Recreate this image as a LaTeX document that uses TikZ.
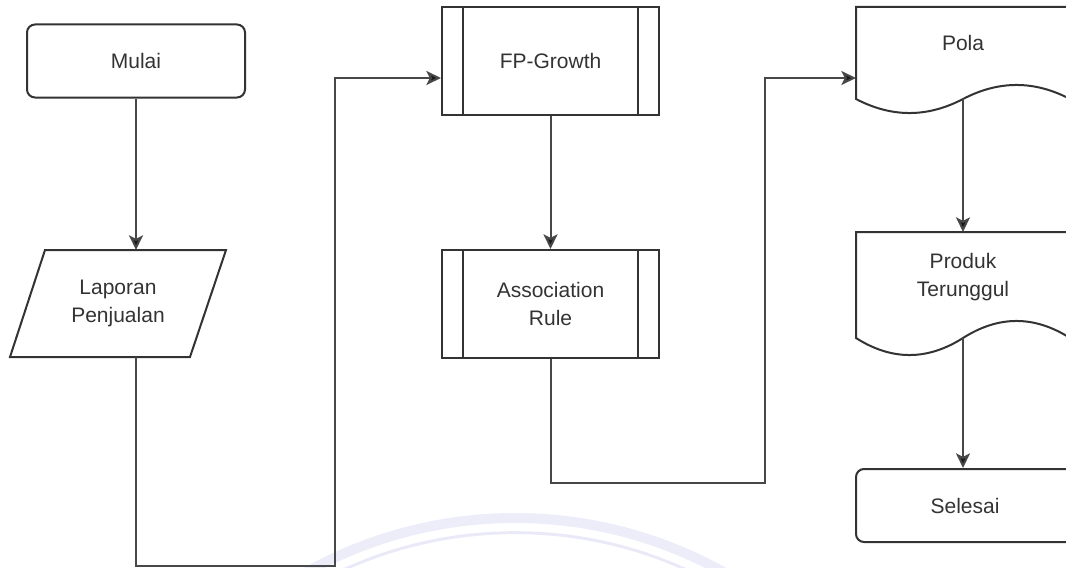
\documentclass[tikz,border=0pt]{standalone}
\usepackage{fontspec}
\setmainfont{Liberation Sans}
\usetikzlibrary{arrows.meta,calc}
\definecolor{ink}{HTML}{333333}
\definecolor{wire}{HTML}{484848}
\definecolor{label}{HTML}{333333}
\definecolor{seal}{HTML}{EDEDFA}
\definecolor{sealline}{HTML}{E9E9F8}

\begin{document}
\begin{tikzpicture}[x=0.75pt,y=-0.75pt,
  lbl/.style={text=label,font=\fontsize{15.75}{20.5}\selectfont,align=center,inner sep=0pt},
  terminal/.style={lbl,draw=ink,line width=1.5pt,rounded corners=6pt,
    minimum width=163.5pt,minimum height=54.75pt},
  procbox/.style={lbl,draw=ink,line width=1.5pt,
    minimum width=162.75pt,minimum height=81pt},
  shapeline/.style={draw=ink,line width=1.5pt,line join=miter},
  conn/.style={draw=wire,line width=1.5pt,
    -{Stealth[length=11pt,width=10.5pt,inset=2.6pt,fill=black!90]}}
]
\useasboundingbox (0,0) rectangle (1066,567);
\clip (0,0) rectangle (1066,567);

% faint seal in the background
\draw[seal,line width=7.5pt] (515,946) circle[radius=321pt];
\draw[sealline,line width=2.2pt] (515,946) circle[radius=310pt];

% start terminal
\node[terminal] (start) at (136,61) {Mulai};

% input: sales report (parallelogram)
\node[lbl] (lap) at (118,303.5) {Laporan\\Penjualan};
\draw[shapeline] ($(lap)+(-73,-53.5)$) -- ($(lap)+(108,-53.5)$)
  -- ($(lap)+(72,53.5)$) -- ($(lap)+(-108,53.5)$) -- cycle;
\coordinate (lapTop) at (136,250);
\coordinate (lapBot) at (136,357);

% predefined processes
\node[procbox] (fp) at (550.5,61) {FP-Growth};
\draw[shapeline] ($(fp.north west)+(22,0)$) -- ($(fp.south west)+(22,0)$);
\draw[shapeline] ($(fp.north east)+(-22,0)$) -- ($(fp.south east)+(-22,0)$);

\node[procbox] (ar) at (550.5,304) {Association\\Rule};
\draw[shapeline] ($(ar.north west)+(22,0)$) -- ($(ar.south west)+(22,0)$);
\draw[shapeline] ($(ar.north east)+(-22,0)$) -- ($(ar.south east)+(-22,0)$);

% document: pattern
\node[lbl] (pola) at (963,43) {Pola};
\draw[shapeline] (856,99) -- (856,7) -- (1070,7) -- (1070,99)
  .. controls (1034.3,80.3) and (998.7,80.3) .. (963,99)
  .. controls (927.3,117.7) and (891.7,117.7) .. (856,99) -- cycle;
\coordinate (polaIn) at (856,78);
\coordinate (polaOut) at (963,99);

% document: top product
\node[lbl] (prod) at (963,277) {Produk\\Terunggul};
\draw[shapeline] (856,338) -- (856,232) -- (1070,232) -- (1070,338)
  .. controls (1034.3,315.3) and (998.7,315.3) .. (963,338)
  .. controls (927.3,360.7) and (891.7,360.7) .. (856,338) -- cycle;
\coordinate (prodTop) at (963,232);
\coordinate (prodOut) at (963,338);

% end terminal
\node[terminal] (finish) at (965,505.5) {Selesai};

% connectors
\coordinate (bendA) at (335,566);
\coordinate (bendB) at (765,483);
\draw[conn] (start.south) -- (lapTop);
\draw[conn] (lapBot) |- (bendA) |- ($(fp.west)+(0,17)$);
\draw[conn] (fp.south) -- (ar.north);
\draw[conn] (ar.south) |- (bendB) |- (polaIn);
\draw[conn] (polaOut) -- (prodTop);
\draw[conn] (prodOut) -- (prodOut |- finish.north);
\end{tikzpicture}
\end{document}
